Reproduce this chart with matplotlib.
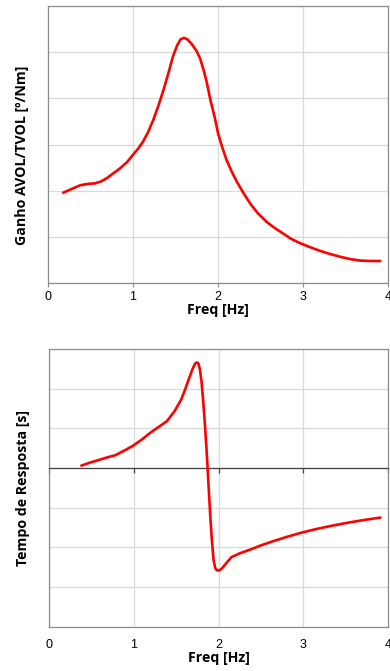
import matplotlib
matplotlib.use("Agg")
import matplotlib.pyplot as plt

# Gain curve (AVOL/TVOL) versus frequency
freq_gain = [0.18, 0.28, 0.38, 0.47, 0.55, 0.62, 0.69, 0.77, 0.85, 0.93, 1.00, 1.06,
             1.12, 1.18, 1.24, 1.30, 1.36, 1.42, 1.47, 1.52, 1.56, 1.60, 1.64, 1.69,
             1.75, 1.79, 1.83, 1.87, 1.91, 1.96, 2.00, 2.05, 2.10, 2.16, 2.22, 2.30,
             2.38, 2.47, 2.57, 2.67, 2.77, 2.86, 2.96, 3.08, 3.20, 3.32, 3.44, 3.56,
             3.67, 3.79, 3.91]
gain = [1.96, 2.04, 2.12, 2.15, 2.16, 2.20, 2.27, 2.38, 2.49, 2.62, 2.78, 2.91,
        3.07, 3.28, 3.54, 3.85, 4.19, 4.57, 4.91, 5.15, 5.28, 5.31, 5.28, 5.18,
        5.02, 4.86, 4.62, 4.33, 3.97, 3.60, 3.25, 2.94, 2.67, 2.42, 2.20, 1.95,
        1.72, 1.51, 1.33, 1.19, 1.07, 0.96, 0.87, 0.78, 0.70, 0.63, 0.57, 0.52,
        0.49, 0.48, 0.48]

# Response time versus frequency
freq_time = [0.38, 0.49, 0.60, 0.69, 0.78, 0.88, 0.99, 1.09, 1.19, 1.29, 1.39, 1.48,
             1.56, 1.60, 1.64, 1.69, 1.72, 1.74, 1.76, 1.78, 1.80, 1.82, 1.84, 1.86,
             1.88, 1.90, 1.92, 1.94, 1.96, 1.98, 2.01, 2.04, 2.09, 2.15, 2.25, 2.37,
             2.50, 2.65, 2.80, 2.96, 3.15, 3.35, 3.55, 3.75, 3.91]
resp_time = [0.06, 0.14, 0.21, 0.27, 0.32, 0.43, 0.56, 0.71, 0.88, 1.03, 1.18, 1.43,
             1.73, 1.95, 2.19, 2.48, 2.62, 2.66, 2.64, 2.48, 2.15, 1.64, 1.05, 0.38,
             -0.38, -1.14, -1.80, -2.31, -2.52, -2.58, -2.58, -2.53, -2.40, -2.25, -2.15, -2.06,
             -1.95, -1.84, -1.74, -1.64, -1.54, -1.45, -1.37, -1.30, -1.25]

xticks = [0, 1, 2, 3, 4]
xlabel = "Freq [Hz]"
ylabel_gain = "Ganho AVOL/TVOL [º/Nm]"
ylabel_time = "Tempo de Resposta [s]"

plt.rcParams["font.family"] = ["Liberation Sans", "DejaVu Sans"]

fig = plt.figure(figsize=(3.9, 6.71), dpi=100)
ax1 = fig.add_axes([0.123, 0.578, 0.872, 0.413])
ax2 = fig.add_axes([0.126, 0.066, 0.869, 0.414])

grid_color = "#d9d9d9"
spine_color = "#8c8c8c"
label_font = dict(family=["Open Sans", "DejaVu Sans"], fontweight="bold", fontsize=10.2)

for ax in (ax1, ax2):
    ax.set_xlim(0, 4)
    ax.set_xticks(xticks)
    ax.grid(True, color=grid_color, linewidth=0.9)
    ax.set_axisbelow(True)
    ax.tick_params(axis="y", length=0, labelleft=False)
    for s in ax.spines.values():
        s.set_color(spine_color)
        s.set_linewidth(0.9)

# Top panel
ax1.plot(freq_gain, gain, color="#ff0000", linewidth=1.9, solid_capstyle="round", zorder=3)
ax1.set_ylim(0, 6)
ax1.set_yticks(range(0, 7))
ax1.set_xticklabels([str(t) for t in xticks], fontsize=9)
ax1.tick_params(axis="x", direction="out", length=3, color=spine_color, pad=3)
ax1.set_xlabel(xlabel, labelpad=0, **label_font)
ax1.set_ylabel(ylabel_gain, **label_font)
ax1.yaxis.set_label_coords(-0.056, 0.462)

# Bottom panel: the category axis crosses at zero, labels stay at the bottom
ax2.set_ylim(-4, 3)
ax2.set_yticks(range(-4, 4))
ax2.spines["bottom"].set_position(("data", 0))
ax2.spines["bottom"].set_color("#404040")
ax2.tick_params(axis="x", direction="out", length=3.5, width=0.9, color="#404040",
                labelbottom=False)
ax2.set_ylabel(ylabel_time, **label_font)
ax2.yaxis.set_label_coords(-0.056, 0.5)

frame_axis = ax2.secondary_xaxis("bottom")
frame_axis.set_xticks(xticks)
frame_axis.set_xticklabels([str(t) for t in xticks], fontsize=9)
frame_axis.tick_params(axis="x", length=0, pad=9)
frame_axis.spines["bottom"].set_color(spine_color)
frame_axis.spines["bottom"].set_linewidth(0.9)
frame_axis.set_xlabel(xlabel, labelpad=0, **label_font)

ax2.plot(freq_time, resp_time, color="#ff0000", linewidth=1.9, solid_capstyle="round", zorder=3)

fig.savefig("out.png", dpi=100)
